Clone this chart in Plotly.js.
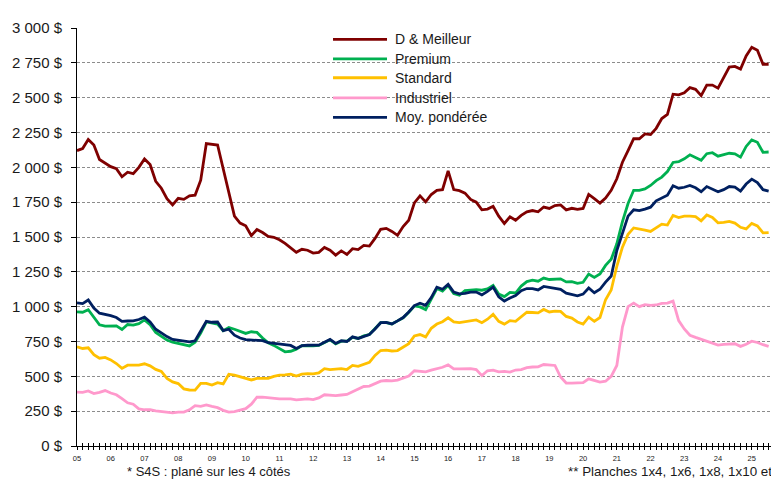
<!DOCTYPE html>
<html><head><meta charset="utf-8">
<script src="https://cdn.plot.ly/plotly-3.0.1.min.js"></script>
<style>html,body{margin:0;padding:0;background:#fff;overflow:hidden;} #chart{width:771px;height:480px;}</style>
</head><body><div id="chart"></div>
<script>
// Bi-monthly readings starting January 2005
const startYear = 2005;
const seriesNames = ['D & Meilleur', 'Premium', 'Standard', 'Industriel', 'Moy. pondérée'];
const seriesColors = ['#7f0000', '#00b050', '#ffc000', '#ff99cc', '#002060'];

const dMeilleur = [2120,2135,2200,2160,2056,2030,
 2005,1990,1932,1965,1955,2000,
 2060,2020,1900,1850,1775,1730,
 1778,1770,1795,1800,1908,2170,
 2166,2160,1990,1810,1650,1600,
 1580,1510,1554,1532,1505,1498,
 1480,1454,1425,1390,1412,1405,
 1385,1390,1425,1405,1370,1400,
 1375,1416,1410,1440,1435,1490,
 1555,1562,1540,1512,1575,1620,
 1745,1795,1752,1805,1834,1840,
 1975,1840,1833,1815,1770,1750,
 1695,1700,1720,1650,1597,1645,
 1620,1655,1680,1690,1681,1715,
 1705,1726,1730,1695,1706,1698,
 1705,1805,1775,1743,1780,1835,
 1918,2037,2120,2205,2205,2240,
 2235,2280,2350,2380,2525,2520,
 2535,2572,2560,2515,2590,2590,
 2568,2640,2720,2724,2705,2800,
 2862,2840,2740,2740];

const premium = [963,960,978,920,870,860,
 860,862,836,872,868,878,
 905,870,815,785,760,745,
 735,724,718,745,810,890,
 880,875,828,850,838,825,
 808,820,815,775,740,722,
 700,676,680,695,720,718,
 718,722,745,762,733,752,
 752,780,772,790,800,840,
 885,886,876,898,920,960,
 1005,998,979,1055,1130,1112,
 1152,1094,1082,1116,1120,1122,
 1118,1128,1152,1090,1072,1102,
 1098,1148,1180,1190,1183,1205,
 1195,1200,1200,1178,1180,1168,
 1175,1234,1210,1234,1296,1340,
 1451,1610,1740,1835,1835,1845,
 1870,1905,1930,1970,2035,2040,
 2061,2090,2072,2050,2098,2105,
 2080,2090,2101,2097,2073,2150,
 2197,2180,2108,2110];

const standard = [712,700,705,655,630,636,
 618,592,557,580,580,580,
 590,575,550,535,485,460,
 448,410,402,401,450,450,
 437,455,446,515,508,497,
 485,474,485,485,485,500,
 509,510,516,502,516,520,
 517,525,555,548,550,555,
 549,578,572,588,600,650,
 685,688,682,685,710,735,
 790,800,783,845,875,892,
 920,890,886,891,898,905,
 885,910,945,895,875,900,
 895,927,960,958,955,980,
 962,968,966,930,918,890,
 875,925,895,922,1050,1120,
 1290,1427,1520,1565,1560,1550,
 1540,1565,1592,1586,1655,1640,
 1650,1650,1647,1616,1658,1640,
 1602,1605,1612,1600,1570,1558,
 1598,1580,1530,1532];

const industriel = [386,385,395,376,385,398,
 380,368,340,310,300,266,
 260,260,252,246,240,238,
 243,243,260,290,285,295,
 284,275,256,243,246,256,
 268,300,350,350,345,338,
 338,338,338,331,336,338,
 333,345,368,366,362,366,
 370,390,410,427,430,448,
 465,470,467,473,490,502,
 540,535,532,544,552,565,
 582,554,554,554,556,548,
 505,540,545,532,536,530,
 545,548,562,567,568,585,
 580,578,495,452,451,451,
 455,482,470,459,465,500,
 578,853,1000,1025,1000,1015,
 1009,1012,1024,1025,1040,900,
 840,795,780,765,755,735,
 724,730,734,734,715,730,
 752,743,727,715];

const moyPonderee = [1027,1022,1048,990,953,945,
 935,922,895,897,898,908,
 925,890,838,812,785,765,
 760,750,748,755,820,895,
 888,890,828,838,795,775,
 763,760,759,756,742,738,
 735,730,722,700,720,723,
 722,724,745,765,736,755,
 750,783,772,788,800,840,
 885,887,876,898,922,962,
 1008,1025,1010,1065,1140,1125,
 1160,1105,1092,1096,1105,1105,
 1085,1110,1140,1070,1040,1062,
 1080,1115,1130,1130,1120,1145,
 1138,1135,1125,1097,1090,1078,
 1090,1134,1100,1125,1176,1220,
 1403,1530,1650,1695,1690,1700,
 1714,1760,1780,1800,1868,1850,
 1857,1870,1853,1825,1862,1845,
 1825,1840,1862,1858,1829,1880,
 1915,1890,1840,1830];

const yTickVals = [0,250,500,750,1000,1250,1500,1750,2000,2250,2500,2750,3000];
const yTickText = ['0 $','250 $','500 $','750 $','1 000 $','1 250 $','1 500 $','1 750 $','2 000 $','2 250 $','2 500 $','2 750 $','3 000 $'];
const yearLabels = ['05','06','07','08','09','10','11','12','13','14','15','16','17','18','19','20','21','22','23','24','25'];
const footnoteLeft = '* S4S : plané sur les 4 côtés';
const footnoteRight = '** Planches 1x4, 1x6, 1x8, 1x10 et';

const allSeries = [dMeilleur, premium, standard, industriel, moyPonderee];
const dates = dMeilleur.map((_, i) => startYear + i / 6);

const tickVals = [], tickText = [];
for (let k = 0; k < dates.length; k++) {
  tickVals.push(startYear + k / 6);
  tickText.push(k % 6 === 0 ? yearLabels[k / 6] : '');
}

const FONT = 'Arial, "Liberation Sans", sans-serif';
const traces = allSeries.map((vals, i) => ({
  type: 'scatter', mode: 'lines', x: dates, y: vals, name: seriesNames[i],
  line: {color: seriesColors[i], width: 2.8}, showlegend: false, hoverinfo: 'skip'
}));

// custom legend (long line samples like the original)
const legY = [0.973, 0.926, 0.881, 0.833, 0.786];
const shapes = [], annotations = [];
seriesNames.forEach((n, i) => {
  shapes.push({type: 'line', xref: 'paper', yref: 'paper', x0: 0.3689, x1: 0.4467,
    y0: legY[i], y1: legY[i], line: {color: seriesColors[i], width: 2.8}});
  annotations.push({xref: 'paper', yref: 'paper', x: 0.4553, y: legY[i], xanchor: 'left',
    yanchor: 'middle', text: n, showarrow: false, font: {family: FONT, size: 14, color: '#1a1a1a'}});
});
annotations.push({xref: 'paper', yref: 'paper', x: 0.069, y: -0.062, xanchor: 'left', yanchor: 'middle',
  text: footnoteLeft, showarrow: false, font: {family: FONT, size: 13, color: '#1a1a1a'}});
annotations.push({xref: 'paper', yref: 'paper', x: 0.704, y: -0.062, xanchor: 'left', yanchor: 'middle',
  text: footnoteRight, showarrow: false, font: {family: FONT, size: 13.4, color: '#1a1a1a'}});

const xRange = [2005, 2025.57];
const layout = {
  width: 771, height: 480,
  margin: {l: 77, r: 0, t: 28, b: 34, pad: 0},
  paper_bgcolor: '#ffffff', plot_bgcolor: '#ffffff',
  showlegend: false,
  font: {family: FONT, color: '#1a1a1a'},
  xaxis: {
    range: xRange, tickmode: 'array', tickvals: tickVals, ticktext: tickText,
    ticks: 'outside', ticklen: 3, tickcolor: '#000', tickwidth: 1, ticklabelstandoff: 2,
    showline: true, linecolor: '#000', linewidth: 1, showgrid: false, zeroline: false,
    tickfont: {family: FONT, size: 7.5, color: '#1a1a1a'}, fixedrange: true
  },
  xaxis2: {
    range: xRange, overlaying: 'x', anchor: 'y', side: 'bottom', tickmode: 'array', tickvals: tickVals,
    ticks: 'inside', ticklen: 3, tickcolor: '#000', showticklabels: false,
    showline: false, showgrid: false, zeroline: false, fixedrange: true
  },
  yaxis: {
    range: [0, 3000], tickmode: 'array', tickvals: yTickVals, ticktext: yTickText,
    ticks: 'outside', ticklen: 5, tickcolor: '#000', ticklabelstandoff: 6,
    showline: true, linecolor: '#000', linewidth: 1,
    showgrid: true, gridcolor: '#8c8c8c', gridwidth: 1, griddash: '3px,2px', zeroline: false,
    tickfont: {family: FONT, size: 15, color: '#1a1a1a'}, fixedrange: true
  },
  shapes: shapes, annotations: annotations
};
// empty helper trace so the overlaying tick axis renders
traces.push({type: 'scatter', mode: 'lines', x: xRange, y: [null, null], xaxis: 'x2', yaxis: 'y', showlegend: false, hoverinfo: 'skip'});
Plotly.newPlot('chart', traces, layout, {staticPlot: true, displayModeBar: false});
</script>
</body></html>
